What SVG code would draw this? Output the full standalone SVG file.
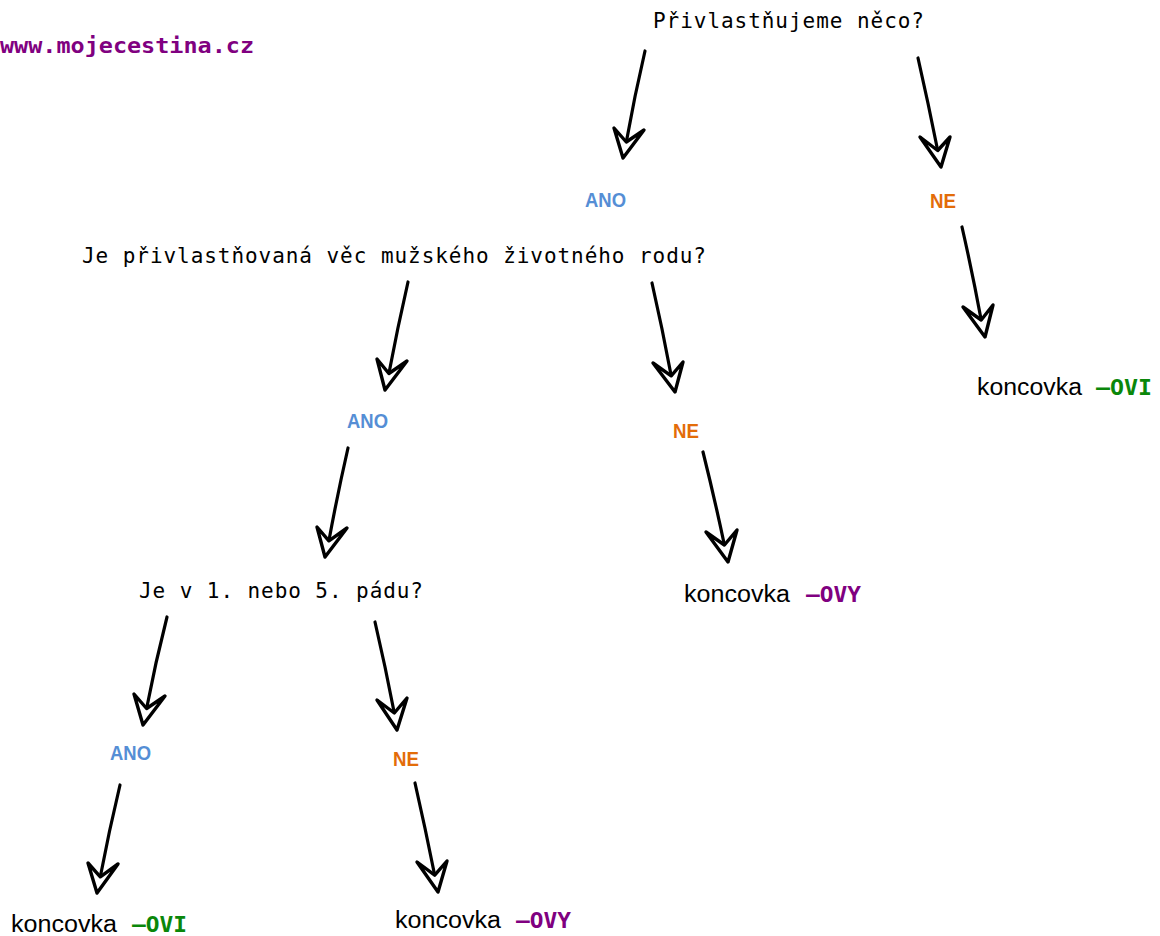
<svg xmlns="http://www.w3.org/2000/svg" width="1160" height="936" viewBox="0 0 1160 936">
<style>
.q{font-family:"DejaVu Sans Mono","Liberation Mono",monospace;font-size:21px;fill:#000}
.url{font-family:"DejaVu Sans Mono","Liberation Mono",monospace;font-size:22px;font-weight:bold;fill:#800080}
.ano{font-family:"Liberation Sans",Arial,sans-serif;font-size:20.5px;font-weight:bold;fill:#558ED5}
.ne{font-family:"Liberation Sans",Arial,sans-serif;font-size:20.5px;font-weight:bold;fill:#E36C09}
.k{font-family:"Liberation Sans",Arial,sans-serif;font-size:23px;fill:#000}
.ovi{font-family:"DejaVu Sans Mono","Liberation Mono",monospace;font-size:22px;font-weight:bold;fill:#0A870A}
.ovy{font-family:"DejaVu Sans Mono","Liberation Mono",monospace;font-size:22px;font-weight:bold;fill:#800080}
.shaft{fill:none;stroke:#000;stroke-width:3.2;stroke-linecap:round}
.head{fill:#fff;stroke:#000;stroke-width:3.4;stroke-linejoin:round}
</style>
<rect width="1160" height="936" fill="#fff"/>
<g id="url"><text class="url" x="0" y="53" textLength="254" lengthAdjust="spacingAndGlyphs">www.mojecestina.cz</text></g>
<g id="q1"><text class="q" x="653" y="28" textLength="271" lengthAdjust="spacing">Přivlastňujeme něco?</text></g>
<g id="ano1"><text class="ano" x="585" y="207" textLength="41" lengthAdjust="spacingAndGlyphs">ANO</text></g>
<g id="ne1"><text class="ne" x="930" y="208" textLength="26" lengthAdjust="spacingAndGlyphs">NE</text></g>
<g id="q2"><text class="q" x="82" y="263" textLength="624" lengthAdjust="spacing">Je přivlastňovaná věc mužského životného rodu?</text></g>
<g id="ano2"><text class="ano" x="347" y="428" textLength="41" lengthAdjust="spacingAndGlyphs">ANO</text></g>
<g id="ne2"><text class="ne" x="673" y="438" textLength="26" lengthAdjust="spacingAndGlyphs">NE</text></g>
<g id="q3"><text class="q" x="139" y="598" textLength="284" lengthAdjust="spacing">Je v 1. nebo 5. pádu?</text></g>
<g id="ano3"><text class="ano" x="110" y="760" textLength="41" lengthAdjust="spacingAndGlyphs">ANO</text></g>
<g id="ne3"><text class="ne" x="393" y="766" textLength="26" lengthAdjust="spacingAndGlyphs">NE</text></g>
<g id="end1"><text class="k" x="977" y="395" textLength="105" lengthAdjust="spacingAndGlyphs">koncovka</text><text class="ovi" x="1096" y="395" textLength="56" lengthAdjust="spacingAndGlyphs">–OVI</text></g>
<g id="end2"><text class="k" x="684" y="602" textLength="106" lengthAdjust="spacingAndGlyphs">koncovka</text><text class="ovy" x="806" y="602" textLength="55" lengthAdjust="spacingAndGlyphs">–OVY</text></g>
<g id="end3"><text class="k" x="11" y="932" textLength="106" lengthAdjust="spacingAndGlyphs">koncovka</text><text class="ovi" x="132" y="932" textLength="55" lengthAdjust="spacingAndGlyphs">–OVI</text></g>
<g id="end4"><text class="k" x="395" y="928" textLength="106" lengthAdjust="spacingAndGlyphs">koncovka</text><text class="ovy" x="516" y="928" textLength="55" lengthAdjust="spacingAndGlyphs">–OVY</text></g>
<g id="connectors">
<path class="shaft" d="M645,51 Q634.5,96 626.3,142"/>
<path class="head" d="M614,128 L623,158 L644,130 L626.3,142 Z"/>
<path class="shaft" d="M918,58 Q928.5,104 937.7,150.5"/>
<path class="head" d="M920,137 L941,167 L950,137 L937.7,150.5 Z"/>
<path class="shaft" d="M962,227 Q972.5,273 981.2,320"/>
<path class="head" d="M963,307 L985,337 L993,305 L981.2,320 Z"/>
<path class="shaft" d="M408,282 Q397.5,328 388.9,373.5"/>
<path class="head" d="M377,359 L385,390 L407,361 L388.9,373.5 Z"/>
<path class="shaft" d="M348,448 Q337.5,494 328.9,540.8"/>
<path class="head" d="M317,527 L325,557 L347,528 L328.9,540.8 Z"/>
<path class="shaft" d="M652,283 Q662.5,329 671.2,375.8"/>
<path class="head" d="M653,363 L675,392 L683,362 L671.2,375.8 Z"/>
<path class="shaft" d="M703,452 Q714.5,498 724.4,545"/>
<path class="head" d="M706,532 L728,562 L737,530 L724.4,545 Z"/>
<path class="shaft" d="M167,617 Q155.5,662 146.6,708.5"/>
<path class="head" d="M134,694 L143,725 L165,696 L146.6,708.5 Z"/>
<path class="shaft" d="M375,622 Q385.5,667 394.3,713"/>
<path class="head" d="M377,700 L397,730 L407,698 L394.3,713 Z"/>
<path class="shaft" d="M120,785 Q109,831 100.3,876.8"/>
<path class="head" d="M88,863 L97,893 L118,864 L100.3,876.8 Z"/>
<path class="shaft" d="M415,783 Q425.5,829 434.7,875.2"/>
<path class="head" d="M417,862 L438,892 L447,861 L434.7,875.2 Z"/>
</g>
</svg>
